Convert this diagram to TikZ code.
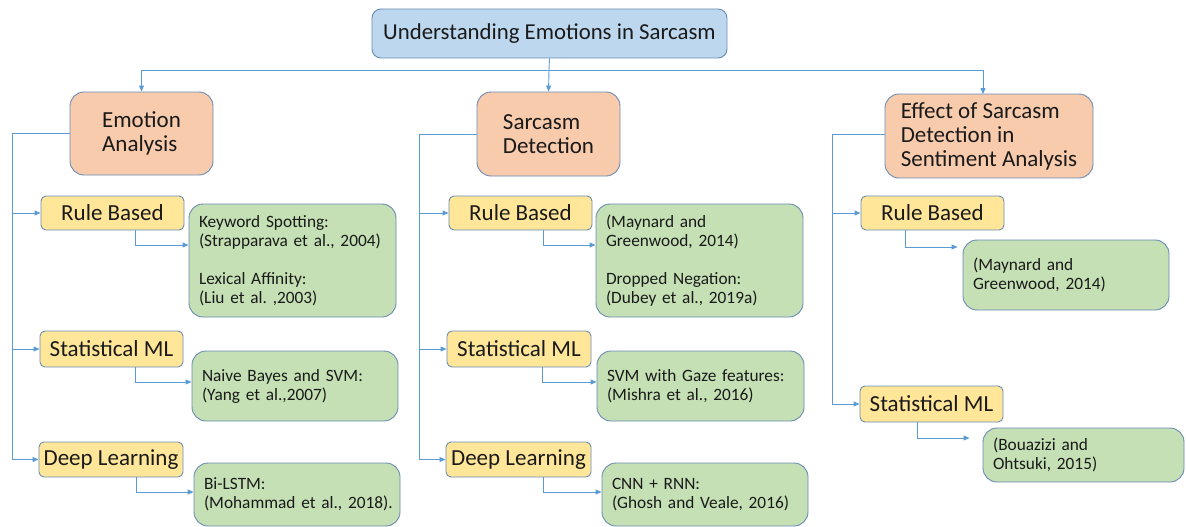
\documentclass[tikz,border=0pt]{standalone}
\usepackage{fontspec}
\setmainfont{Carlito}
\usetikzlibrary{arrows.meta}
\definecolor{lineblue}{HTML}{5B9BD5}
\definecolor{bord}{HTML}{6A8CB4}
\definecolor{topblue}{HTML}{BDD7EE}
\definecolor{catorange}{HTML}{F8CBAD}
\definecolor{methyellow}{HTML}{FFE699}
\definecolor{refgreen}{HTML}{C5E0B4}
\definecolor{txt}{HTML}{1A1A1A}
\frenchspacing
\begin{document}
\begin{tikzpicture}[x=1pt,y=-1pt,
  base/.style={draw=bord, line width=0.9pt, text=txt, inner sep=0pt},
  topbox/.style={base, fill=topblue, rounded corners=9pt, font=\fontsize{22.8}{25}\selectfont},
  cat/.style={base, fill=catorange, rounded corners=14pt, align=left, font=\fontsize{23}{24}\selectfont},
  meth/.style={base, fill=methyellow, rounded corners=5pt, font=\fontsize{23}{25}\selectfont},
  ref/.style={base, fill=refgreen, rounded corners=14pt, inner xsep=10pt, align=left, font=\fontsize{17.3}{19}\selectfont},
  conn/.style={draw=lineblue, line width=0.9pt},
  arr/.style={conn, -{Triangle[length=6pt,width=5pt]}}
]
\useasboundingbox (0,0) rectangle (1186,527);

% top
\node[topbox, minimum width=355pt, minimum height=49pt] (top) at (549.5,33.5) {Understanding Emotions in Sarcasm};

% categories
\node[cat, minimum width=143pt, minimum height=83pt] (ea) at (141.5,133.5) {Emotion\\Analysis};
\node[cat, minimum width=143pt, minimum height=84pt] (sd) at (548.5,134) {Sarcasm\\Detection};
\node[cat, minimum width=208pt, minimum height=84pt] (es) at (989,136) {Effect of Sarcasm\\Detection in\\Sentiment Analysis};

% methods column 1
\node[meth, minimum width=143pt, minimum height=34pt] (rb1) at (112.5,213) {Rule Based};
\node[meth, minimum width=143pt, minimum height=36pt] (sm1) at (111.5,349) {Statistical ML};
\node[meth, minimum width=144pt, minimum height=35pt] (dl1) at (111,459.5) {Deep Learning};
% methods column 2
\node[meth, minimum width=143pt, minimum height=34pt] (rb2) at (520.5,213) {Rule Based};
\node[meth, minimum width=144pt, minimum height=36pt] (sm2) at (519,349) {Statistical ML};
\node[meth, minimum width=145pt, minimum height=35pt] (dl2) at (518.5,459.5) {Deep Learning};
% methods column 3
\node[meth, minimum width=143pt, minimum height=34pt] (rb3) at (932.5,213) {Rule Based};
\node[meth, minimum width=143pt, minimum height=36pt] (sm3) at (931.5,404) {Statistical ML};

% references column 1
\node[ref, text width=187pt, minimum height=113pt] (g11) at (292.5,260.5)
  {\mbox{Keyword Spotting:}\\\mbox{(Strapparava et al., 2004)}\\[19pt]\mbox{Lexical Affinity:}\\\mbox{(Liu et al. ,2003)}};
\node[ref, text width=186pt, minimum height=70pt] (g12) at (295,386)
  {\mbox{Naive Bayes and SVM:}\\\mbox{(Yang et al.,2007)}};
\node[ref, text width=186pt, minimum height=63pt] (g13) at (297,494.5)
  {\mbox{Bi-LSTM:}\\\mbox{(Mohammad et al., 2018).}};
% references column 2
\node[ref, text width=187pt, minimum height=113pt] (g21) at (699.5,260.5)
  {\mbox{(Maynard and}\\\mbox{Greenwood, 2014)}\\[19pt]\mbox{Dropped Negation:}\\\mbox{(Dubey et al., 2019a)}};
\node[ref, text width=187pt, minimum height=70pt] (g22) at (700.5,386)
  {\mbox{SVM with Gaze features:}\\\mbox{(Mishra et al., 2016)}};
\node[ref, text width=186pt, minimum height=63pt] (g23) at (705,494.5)
  {\mbox{CNN + RNN:}\\\mbox{(Ghosh and Veale, 2016)}};
% references column 3
\node[ref, text width=186pt, minimum height=70pt] (g31) at (1066,275)
  {\mbox{(Maynard and}\\\mbox{Greenwood, 2014)}};
\node[ref, text width=181pt, minimum height=54pt] (g32) at (1083.5,455)
  {\mbox{(Bouazizi and}\\\mbox{Ohtsuki, 2015)}};

% top connectors
\coordinate (hub) at (549,70);
\coordinate (esin) at (983,94);
\draw[conn] (top.south) -- (hub);
\draw[arr] (hub) -| (ea.north);
\draw[arr] (hub) -- (sd.north);
\draw[arr] (hub) -| (esin);

% column spines
\coordinate (c1) at (12,133.5);
\coordinate (c2) at (419,134);
\coordinate (c3) at (832,134);
\draw[arr] (ea.west) -- (c1) |- (dl1.west);
\draw[arr] (c1 |- rb1.west) -- (rb1.west);
\draw[arr] (c1 |- sm1.west) -- (sm1.west);
\draw[arr] (sd.west) -- (c2) |- (dl2.west);
\draw[arr] (c2 |- rb2.west) -- (rb2.west);
\draw[arr] (c2 |- sm2.west) -- (sm2.west);
\draw[arr] ([yshift=2pt]es.west) -- (c3) |- (sm3.west);
\draw[arr] (c3 |- rb3.west) -- (rb3.west);

% method to reference connectors
\coordinate (k11) at (135,245);
\coordinate (k12) at (135,382);
\coordinate (k13) at (136,492);
\coordinate (k21) at (543,245);
\coordinate (k22) at (542,382);
\coordinate (k23) at (543,492);
\coordinate (k31) at (905,247);
\coordinate (k32) at (917,438);
\draw[arr] (rb1.south -| k11) |- (g11.west |- k11);
\draw[arr] (sm1.south -| k12) |- (g12.west |- k12);
\draw[arr] (dl1.south -| k13) |- (g13.west |- k13);
\draw[arr] (rb2.south -| k21) |- (g21.west |- k21);
\draw[arr] (sm2.south -| k22) |- (g22.west |- k22);
\draw[arr] (dl2.south -| k23) |- (g23.west |- k23);
\draw[arr, shorten >=5pt] (rb3.south -| k31) |- (g31.west |- k31);
\draw[arr, shorten >=13pt] (sm3.south -| k32) |- (g32.west |- k32);
\end{tikzpicture}
\end{document}
